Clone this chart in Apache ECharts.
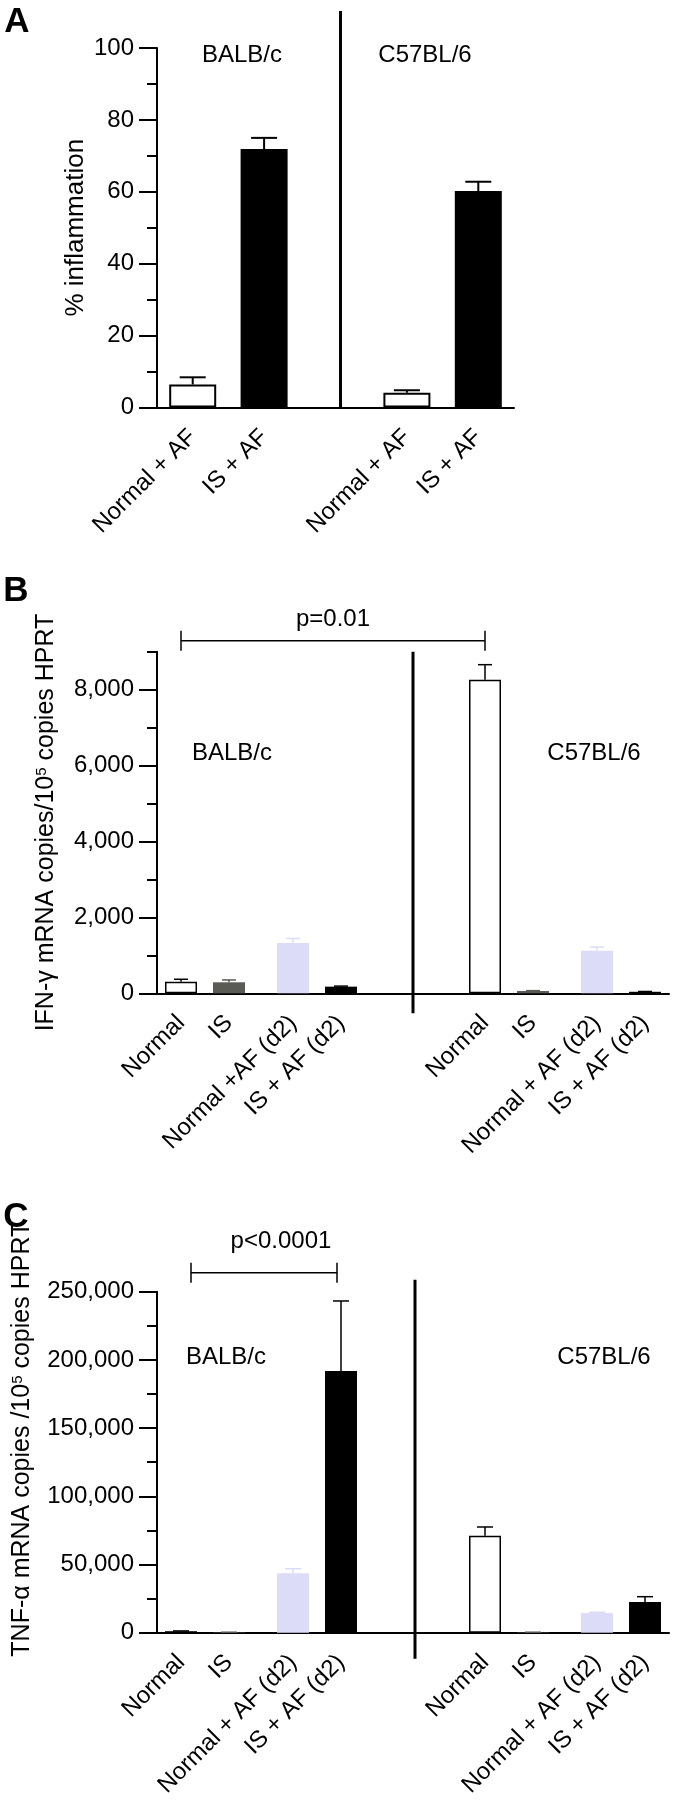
<!DOCTYPE html>
<html>
<head>
<meta charset="utf-8">
<script src="https://cdn.jsdelivr.net/npm/echarts@6/dist/echarts.min.js"></script>
<style>
  html, body { margin: 0; padding: 0; background: #fff; }
  #main { width: 673px; height: 1800px; }
</style>
</head>
<body>
<div id="main"></div>
<script>
// values
var catA = ['Normal + AF', 'IS + AF', '', 'Normal + AF', 'IS + AF'];
var meanA = [6.4, 71.9, null, 4.1, 60.2];
var semA = [2.0, 3.1, null, 0.7, 2.6];

var catB = ['Normal', 'IS', 'Normal +AF (d2)', 'IS + AF (d2)', 'Normal', 'IS', 'Normal + AF (d2)', 'IS + AF (d2)'];
var meanB = [307, 290, 1322, 175, 8262, 60, 1119, 40];
var semB = [63, 62, 122, 15, 396, 10, 98, 8];

var catC = ['Normal', 'IS', 'Normal + AF (d2)', 'IS + AF (d2)', 'Normal', 'IS', 'Normal + AF (d2)', 'IS + AF (d2)'];
var meanC = [1100, 300, 43500, 191900, 71100, 300, 14400, 22500];
var semC = [200, 60, 3400, 51300, 6400, 60, 600, 3900];

var strains = ['BALB/c', 'C57BL/6'];
var pLabelB = 'p=0.01';
var pLabelC = 'p<0.0001';

// layout + style
var FONT = "'Liberation Sans', Arial, sans-serif";
var nSlot = 32;                              // B and C bars sit on a fine slot grid
var slotBC = [1, 4, 8, 11, 20, 23, 27, 30];
var fillA = ['#ffffff', '#000000', null, '#ffffff', '#000000'];
var fillBC = ['#ffffff', '#5b5b56', '#dcdcf8', '#000000', '#ffffff', '#5b5b56', '#dcdcf8', '#000000'];

var chart = echarts.init(document.getElementById('main'));

function fmt(v) { return Number(v).toLocaleString('en-US'); }

function slotted(list, empty) {
    var out = [];
    for (var i = 0; i < nSlot; i++) out.push(empty);
    slotBC.forEach(function (s, i) { out[s] = list[i]; });
    return out;
}

function barItems(means, fills, lw) {
    return means.map(function (m, i) {
        if (m == null) return '-';
        var white = fills[i] === '#ffffff';
        return {
            value: m,
            itemStyle: { color: fills[i], borderColor: white ? '#000' : fills[i], borderWidth: white ? lw : 0 }
        };
    });
}

function errSeries(xi, yi, means, sems, fills, slots, capHalf, lw) {
    var data = [];
    means.forEach(function (m, i) {
        if (m == null) return;
        var c = fills[i] === '#ffffff' ? '#000' : fills[i];
        data.push({ value: [slots ? slots[i] : i, m, m + sems[i]], itemStyle: { color: c } });
    });
    return {
        type: 'custom', xAxisIndex: xi, yAxisIndex: yi, z: 3, silent: true,
        renderItem: function (params, api) {
            var lo = api.coord([api.value(0), api.value(1)]);
            var hi = api.coord([api.value(0), api.value(2)]);
            var c = api.visual('color');
            return {
                type: 'group', children: [
                    { type: 'line', shape: { x1: lo[0], y1: lo[1], x2: hi[0], y2: hi[1] }, style: { stroke: c, lineWidth: lw } },
                    { type: 'line', shape: { x1: hi[0] - capHalf, y1: hi[1], x2: hi[0] + capHalf, y2: hi[1] }, style: { stroke: c, lineWidth: lw } }
                ]
            };
        },
        data: data
    };
}

function xAx(grid, data, fs) {
    return {
        type: 'category', gridIndex: grid, data: data,
        axisLine: { lineStyle: { color: '#000', width: 2 } },
        axisTick: { show: false },
        splitLine: { show: false },
        axisLabel: { interval: 0, rotate: 45, margin: 26, color: '#000', fontFamily: FONT, fontSize: fs }
    };
}

var tickLine = { color: '#000', width: 2 };
var labelStyle = { color: '#000', fontFamily: FONT, fontSize: 24, margin: 23 };

var option = {
    animation: false,
    backgroundColor: '#fff',
    grid: [
        { left: 157, top: 48, width: 357, height: 359.5, containLabel: false, outerBoundsMode: 'none' },
        { left: 157, top: 651.7, width: 512, height: 341.6, containLabel: false, outerBoundsMode: 'none' },
        { left: 157, top: 1291.7, width: 512, height: 341, containLabel: false, outerBoundsMode: 'none' }
    ],
    xAxis: [
        xAx(0, catA, 24),
        xAx(1, slotted(catB, ''), 24),
        xAx(2, slotted(catC, ''), 24)
    ],
    yAxis: [
        {
            type: 'value', gridIndex: 0, position: 'left', min: 0, max: 100, interval: 20,
            axisLine: { show: true, lineStyle: tickLine },
            axisTick: { show: true, length: 18, lineStyle: tickLine },
            minorTick: { show: true, splitNumber: 2, length: 10, lineStyle: tickLine },
            splitLine: { show: false }, minorSplitLine: { show: false },
            axisLabel: labelStyle,
            name: '% inflammation', nameLocation: 'middle', nameGap: 68, nameMoveOverlap: false,
            nameTextStyle: { color: '#000', fontFamily: FONT, fontSize: 26 }
        },
        {
            type: 'value', gridIndex: 1, position: 'left', min: 0, max: 9000, interval: 1000,
            axisLine: { show: true, lineStyle: tickLine },
            axisTick: { show: true, length: 10, lineStyle: tickLine },
            splitLine: { show: false },
            axisLabel: Object.assign({}, labelStyle, {
                customValues: [0, 2000, 4000, 6000, 8000],
                formatter: function (v) { return v % 2000 ? '' : fmt(v); }
            }),
            name: 'IFN-γ mRNA copies/10{s|5} copies HPRT', nameLocation: 'middle', nameGap: 98, nameMoveOverlap: false,
            nameTextStyle: {
                color: '#000', fontFamily: FONT, fontSize: 25,
                rich: { s: { fontSize: 15, verticalAlign: 'top', color: '#000', fontFamily: FONT } }
            }
        },
        {
            // longer ticks at the labelled values
            type: 'value', gridIndex: 1, position: 'left', offset: 0, min: 0, max: 9000, interval: 2000,
            axisLine: { show: false },
            axisTick: { show: true, length: 18, lineStyle: tickLine, customValues: [0, 2000, 4000, 6000, 8000] },
            splitLine: { show: false },
            axisLabel: { show: false }
        },
        {
            type: 'value', gridIndex: 2, position: 'left', min: 0, max: 250000, interval: 50000,
            axisLine: { show: true, lineStyle: tickLine },
            axisTick: { show: true, length: 18, lineStyle: tickLine },
            minorTick: { show: true, splitNumber: 2, length: 10, lineStyle: tickLine },
            splitLine: { show: false }, minorSplitLine: { show: false },
            axisLabel: Object.assign({}, labelStyle, { formatter: fmt }),
            name: 'TNF-α mRNA copies /10{s|5} copies HPRT', nameLocation: 'middle', nameGap: 122, nameMoveOverlap: false,
            nameTextStyle: {
                color: '#000', fontFamily: FONT, fontSize: 25, padding: [0, 0, 0, 46],
                rich: { s: { fontSize: 15, verticalAlign: 'top', color: '#000', fontFamily: FONT } }
            }
        }
    ],
    series: [
        { type: 'bar', xAxisIndex: 0, yAxisIndex: 0, barWidth: 47, z: 2, data: barItems(meanA, fillA, 2) },
        errSeries(0, 0, meanA, semA, fillA, null, 13, 2),
        { type: 'bar', xAxisIndex: 1, yAxisIndex: 1, barWidth: 32, z: 2, data: slotted(barItems(meanB, fillBC, 1.5), '-') },
        errSeries(1, 1, meanB, semB, fillBC, slotBC, 7, 1.5),
        { type: 'bar', xAxisIndex: 2, yAxisIndex: 3, barWidth: 32, z: 2, data: slotted(barItems(meanC, fillBC, 1.5), '-') },
        errSeries(2, 3, meanC, semC, fillBC, slotBC, 8, 1.5)
    ]
};
chart.setOption(option);

// annotations placed through the axes
function pt(xi, yi, x, y) { return chart.convertToPixel({ xAxisIndex: xi, yAxisIndex: yi }, [x, y]); }
var g = [];
function line(x1, y1, x2, y2, w) {
    g.push({ type: 'line', silent: true, shape: { x1: x1, y1: y1, x2: x2, y2: y2 }, style: { stroke: '#000', lineWidth: w } });
}
function txt(s, x, y, size, bold) {
    g.push({
        type: 'text', silent: true, x: x, y: y,
        style: {
            text: s, font: (bold ? 'bold ' : '') + size + 'px ' + FONT, fill: '#000',
            textAlign: 'center', textVerticalAlign: 'middle', align: 'center', verticalAlign: 'middle'
        }
    });
}

// panel A
var a0 = pt(0, 0, 2, 0);
line(a0[0] + 5, 11, a0[0] + 5, a0[1] + 1, 3);
txt(strains[0], 242, 55, 24);
txt(strains[1], 425, 55, 24);
txt('A', 17, 22, 35, true);

// panel B
var bTop = pt(1, 1, 0, 9000)[1], bBase = pt(1, 1, 0, 0)[1];
var bDiv = (pt(1, 1, 15, 0)[0] + pt(1, 1, 16, 0)[0]) / 2;
line(bDiv, bTop, bDiv, bBase + 20, 3);
var bx1 = pt(1, 1, slotBC[0], 0)[0], bx2 = pt(1, 1, slotBC[4], 0)[0], by = bTop - 11;
line(bx1, by, bx2, by, 1.5);
line(bx1, by - 10, bx1, by + 10, 1.5);
line(bx2, by - 10, bx2, by + 10, 1.5);
txt(pLabelB, (bx1 + bx2) / 2, by - 21, 24);
txt(strains[0], 232, 753, 24);
txt(strains[1], 594, 753, 24);
txt('B', 16, 591, 35, true);

// panel C
var cTop = pt(2, 3, 0, 250000)[1], cBase = pt(2, 3, 0, 0)[1];
var cDiv = (pt(2, 3, 15, 0)[0] + pt(2, 3, 16, 0)[0]) / 2 + 2;
line(cDiv, cTop - 12, cDiv, cBase + 26, 3);
var cx1 = pt(2, 3, slotBC[0], 0)[0] + 10, cx2 = pt(2, 3, slotBC[3], 0)[0] - 4, cy = cTop - 19;
line(cx1, cy, cx2, cy, 1.5);
line(cx1, cy - 10, cx1, cy + 10, 1.5);
line(cx2, cy - 10, cx2, cy + 10, 1.5);
txt(pLabelC, (cx1 + cx2) / 2 + 17, cy - 31, 24);
txt(strains[0], 226, 1357, 24);
txt(strains[1], 604, 1357, 24);
txt('C', 16, 1217, 35, true);

chart.setOption({ graphic: g });
</script>
</body>
</html>
